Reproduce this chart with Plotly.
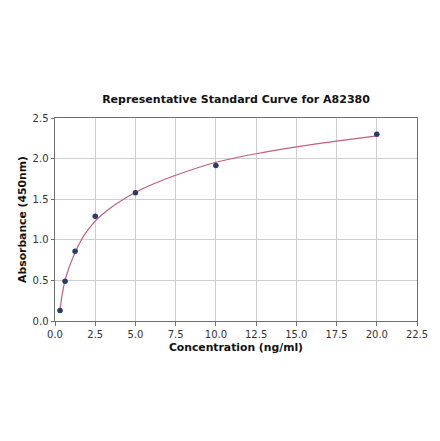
import plotly.graph_objects as go

# Standard points
conc = [0.3125, 0.625, 1.25, 2.5, 5, 10, 20]
absorb = [0.13, 0.49, 0.86, 1.29, 1.58, 1.915, 2.30]

# Fitted curve
curve_x = [0.3125, 0.45, 0.625, 0.8, 1.0, 1.25, 1.6, 1.875, 2.5, 3.2, 3.75, 5, 6.25, 7.5, 10, 12.5, 15, 17.5, 20]
curve_y = [0.14, 0.33, 0.50, 0.615, 0.725, 0.845, 0.985, 1.075, 1.23, 1.355, 1.435, 1.585, 1.70, 1.795, 1.955, 2.06, 2.145, 2.215, 2.28]

x_ticks = [0, 2.5, 5, 7.5, 10, 12.5, 15, 17.5, 20, 22.5]
x_labels = ["0.0", "2.5", "5.0", "7.5", "10.0", "12.5", "15.0", "17.5", "20.0", "22.5"]
y_ticks = [0, 0.5, 1.0, 1.5, 2.0, 2.5]
y_labels = ["0.0", "0.5", "1.0", "1.5", "2.0", "2.5"]

fig = go.Figure()
fig.add_trace(go.Scatter(x=curve_x, y=curve_y, mode="lines",
                         line=dict(color="#c0607e", width=1.2, shape="spline", smoothing=0.6),
                         hoverinfo="skip", showlegend=False))
fig.add_trace(go.Scatter(x=conc, y=absorb, mode="markers",
                         marker=dict(color="#2b3a67", size=5.5),
                         showlegend=False))

font = "DejaVu Sans"
axis_common = dict(showgrid=True, gridcolor="#cfcfcf", gridwidth=1,
                   showline=True, linecolor="#6e6e6e", linewidth=1, mirror=True,
                   ticks="outside", ticklen=3.5, tickcolor="#6e6e6e", tickwidth=1,
                   zeroline=False, automargin=False,
                   tickfont=dict(family=font, size=10, color="#333333"))

# page body adds an 8px offset, so the figure is 8px smaller and margins shifted
fig.update_layout(
    width=432, height=433,
    margin=dict(l=47, r=23, t=110, b=120, autoexpand=False),
    paper_bgcolor="white", plot_bgcolor="white",
    title=dict(text="<b>Representative Standard Curve for A82380</b>",
               font=dict(family=font, size=11, color="#111111"),
               x=0.5, xanchor="center", xref="paper",
               y=1 - 91 / 433, yref="container", yanchor="middle"),
    xaxis=dict(range=[0, 22.5], tickvals=x_ticks, ticktext=x_labels,
               title=dict(text="<b>Concentration (ng/ml)</b>", font=dict(family=font, size=10.8, color="#111111"), standoff=4),
               **axis_common),
    yaxis=dict(range=[0, 2.5], tickvals=y_ticks, ticktext=y_labels,
               title=dict(text="<b>Absorbance (450nm)</b>", font=dict(family=font, size=10.8, color="#111111"), standoff=3),
               **axis_common),
)
fig.write_html("out.html")
